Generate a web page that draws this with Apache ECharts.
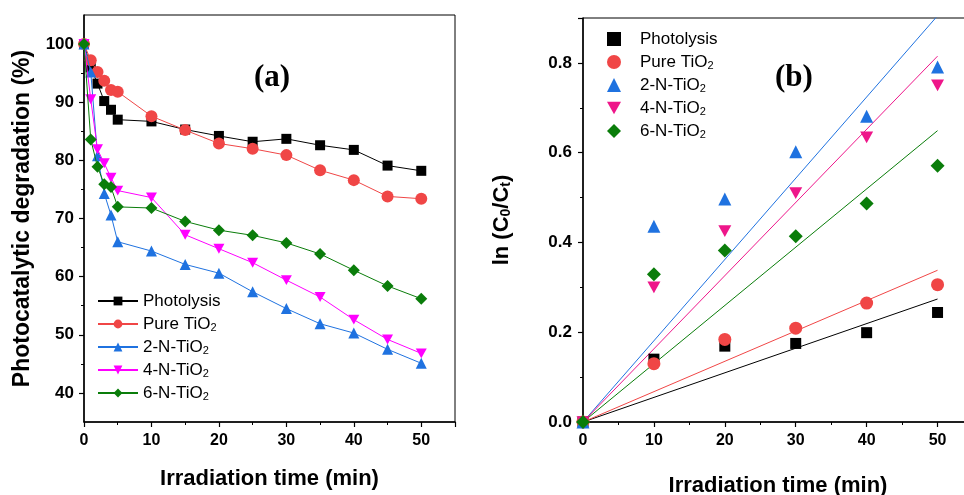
<!DOCTYPE html>
<html lang="en">
<head>
    <meta charset="UTF-8">
    <title>Photocatalytic degradation</title>
    <script src="https://cdn.jsdelivr.net/npm/echarts@6/dist/echarts.min.js"></script>
    <style>
        html, body { margin: 0; padding: 0; background: #fff; }
        #main { width: 964px; height: 495px; }
    </style>
</head>
<body>
<div id="main"></div>
<script>
    // panel (a) data
    var timeA = [0, 1, 2, 3, 4, 5, 10, 15, 20, 25, 30, 35, 40, 45, 50];
    var photolysisA = [100, 96.0, 93.2, 90.2, 88.7, 87.0, 86.7, 85.3, 84.2, 83.2, 83.7, 82.6, 81.8, 79.1, 78.2];
    var pureA = [100, 97.2, 95.2, 93.7, 92.1, 91.8, 87.6, 85.2, 82.9, 82.0, 80.9, 78.3, 76.6, 73.8, 73.4];
    var n2A = [100, 95.2, 80.8, 74.3, 70.6, 66.0, 64.4, 62.1, 60.6, 57.4, 54.5, 51.9, 50.3, 47.5, 45.1];
    var n4A = [100, 90.5, 81.9, 79.5, 77.0, 74.8, 73.6, 67.2, 64.8, 62.4, 59.4, 56.5, 52.6, 49.2, 46.8];
    var n6A = [100, 83.6, 78.9, 75.9, 75.4, 72.0, 71.8, 69.5, 68.0, 67.1, 65.8, 63.9, 61.1, 58.4, 56.2];

    // panel (b) data
    var timeB = [0, 10, 20, 30, 40, 50];
    var photolysisB = [0, 0.140, 0.169, 0.175, 0.199, 0.244];
    var pureB = [0, 0.130, 0.184, 0.209, 0.265, 0.306];
    var n2B = [0, 0.436, 0.497, 0.602, 0.681, 0.791];
    var n4B = [0, 0.300, 0.425, 0.510, 0.634, 0.750];
    var n6B = [0, 0.329, 0.382, 0.414, 0.487, 0.571];
    // fitted lines through origin: value at t = 50
    var fitX = [0, 50];
    var fitEnd = [0.274, 0.338, 0.905, 0.815, 0.649];

    var names = ['Photolysis', 'Pure TiO{s|2}', '2-N-TiO{s|2}', '4-N-TiO{s|2}', '6-N-TiO{s|2}'];
    var yTicksA = [40, 50, 60, 70, 80, 90, 100];
    var yMinorA = [45, 55, 65, 75, 85, 95];

    var colorsA = ['#000000', '#f04646', '#1f72e0', '#ff00ff', '#0a7d0a'];
    var colorsB = ['#000000', '#f04646', '#1f72e0', '#ee168a', '#0a7d0a'];
    var downTri = 'path://M0,0 L10,0 L5,9 Z';
    var symbols = ['rect', 'circle', 'triangle', downTri, 'diamond'];
    var symSizeA = [10, 12, 11, 11, 12];
    var symSizeB = [11, 13, 13, 13, 14];

    function zip(xs, ys) {
        return xs.map(function (x, i) { return [x, ys[i]]; });
    }

    var seriesA = [photolysisA, pureA, n2A, n4A, n6A];
    var seriesB = [photolysisB, pureB, n2B, n4B, n6B];

    var tickFont = { color: '#000', fontFamily: 'Liberation Sans', fontWeight: 'bold', fontSize: 16 };
    var subRich = {
        s: { fontSize: 11, fontFamily: 'Liberation Sans', color: '#000', verticalAlign: 'bottom', padding: [9, 0, 0, 0], lineHeight: 18 }
    };

    var myChart = echarts.init(document.getElementById('main'), null, { renderer: 'canvas' });

    var series = [];
    seriesA.forEach(function (d, i) {
        series.push({
            name: 'a' + i,
            type: 'line',
            xAxisIndex: 0,
            yAxisIndex: 0,
            data: zip(timeA, d),
            symbol: symbols[i],
            symbolSize: symSizeA[i],
            symbolKeepAspect: true,
            showAllSymbol: true,
            color: colorsA[i],
            lineStyle: { width: 1, color: colorsA[i] },
            itemStyle: { color: colorsA[i] },
            z: 2 + i
        });
    });
    fitEnd.forEach(function (v, i) {
        series.push({
            name: 'fit' + i,
            type: 'line',
            xAxisIndex: 1,
            yAxisIndex: 2,
            data: [[fitX[0], 0], [fitX[1], v]],
            symbol: 'none',
            clip: true,
            lineStyle: { width: 1, color: colorsB[i] },
            z: 1
        });
    });
    seriesB.forEach(function (d, i) {
        series.push({
            name: 'b' + i,
            type: 'scatter',
            xAxisIndex: 1,
            yAxisIndex: 2,
            data: zip(timeB, d),
            symbol: symbols[i],
            symbolSize: symSizeB[i],
            symbolKeepAspect: true,
            itemStyle: { color: colorsB[i], opacity: 1 },
            z: 3
        });
    });

    var option = {
        animation: false,
        backgroundColor: '#fff',
        title: [
            { text: '(a)', left: 249, top: 57, textStyle: { fontFamily: 'Liberation Serif', fontWeight: 'bold', fontSize: 31, color: '#000' } },
            { text: '(b)', left: 770, top: 57, textStyle: { fontFamily: 'Liberation Serif', fontWeight: 'bold', fontSize: 31, color: '#000' } }
        ],
        grid: [
            { left: 84, top: 15, width: 371, height: 407, outerBoundsMode: 'none', show: true, borderColor: '#000', borderWidth: 1 },
            { left: 583, top: 18, width: 390, height: 404, outerBoundsMode: 'none', show: true, borderColor: '#000', borderWidth: 1 }
        ],
        legend: [
            {
                data: ['a0', 'a1', 'a2', 'a3', 'a4'],
                orient: 'vertical',
                left: 97,
                top: 292,
                padding: 0,
                itemWidth: 40,
                itemHeight: 11,
                itemGap: 3,
                formatter: function (n) { return names[+n.slice(1)]; },
                textStyle: { color: '#000', fontFamily: 'Liberation Sans', fontSize: 17, lineHeight: 18, rich: subRich }
            },
            {
                data: ['b0', 'b1', 'b2', 'b3', 'b4'],
                orient: 'vertical',
                left: 607,
                top: 30,
                padding: 0,
                itemWidth: 14,
                itemHeight: 14,
                itemGap: 3,
                formatter: function (n) { return names[+n.slice(1)]; },
                textStyle: { color: '#000', fontFamily: 'Liberation Sans', fontSize: 17, lineHeight: 18, padding: [0, 0, 0, 14], rich: subRich }
            }
        ],
        xAxis: [
            {
                gridIndex: 0, type: 'value', min: 0, max: 55, interval: 10,
                name: 'Irradiation time (min)', nameLocation: 'middle', nameGap: 46,
                nameTextStyle: { color: '#000', fontFamily: 'Liberation Sans', fontWeight: 'bold', fontSize: 22 },
                axisLine: { lineStyle: { color: '#000', width: 1.5 } },
                axisTick: { length: 5, lineStyle: { color: '#000', width: 1.2 } },
                minorTick: { show: true, splitNumber: 2, length: 3, lineStyle: { color: '#000', width: 1 } },
                axisLabel: Object.assign({ margin: 11, showMaxLabel: false }, tickFont),
                splitLine: { show: false }
            },
            {
                gridIndex: 1, type: 'value', min: 0, max: 55, interval: 10,
                name: 'Irradiation time (min)', nameLocation: 'middle', nameGap: 53,
                nameTextStyle: { color: '#000', fontFamily: 'Liberation Sans', fontWeight: 'bold', fontSize: 22 },
                axisLine: { lineStyle: { color: '#000', width: 1.5 } },
                axisTick: { length: 5, lineStyle: { color: '#000', width: 1.2 } },
                minorTick: { show: true, splitNumber: 2, length: 3, lineStyle: { color: '#000', width: 1 } },
                axisLabel: Object.assign({ margin: 11, showMaxLabel: false }, tickFont),
                splitLine: { show: false }
            }
        ],
        yAxis: [
            {
                gridIndex: 0, type: 'value', min: 35, max: 105, position: 'left',
                name: 'Photocatalytic degradation (%)', nameLocation: 'middle', nameGap: 50,
                nameTextStyle: { color: '#000', fontFamily: 'Liberation Sans', fontWeight: 'bold', fontSize: 23 },
                axisLine: { show: true, lineStyle: { color: '#000', width: 1.5 } },
                axisTick: { show: true, length: 5, customValues: yTicksA, lineStyle: { color: '#000', width: 1.2 } },
                axisLabel: Object.assign({ margin: 10, customValues: yTicksA }, tickFont, { fontSize: 17 }),
                splitLine: { show: false }
            },
            {
                gridIndex: 0, type: 'value', min: 35, max: 105, position: 'left', offset: 0,
                axisLine: { show: false },
                axisTick: { show: true, length: 3, customValues: yMinorA, lineStyle: { color: '#000', width: 1 } },
                axisLabel: { show: false },
                splitLine: { show: false }
            },
            {
                gridIndex: 1, type: 'value', min: 0, max: 0.9, interval: 0.2,
                name: '{a|ln (C}{s|0}{a|/C}{s|t}{a|)}', nameLocation: 'middle', nameGap: 70,
                nameTextStyle: {
                    rich: {
                        a: { fontFamily: 'Liberation Sans', fontWeight: 'bold', fontSize: 22, color: '#000', lineHeight: 26, verticalAlign: 'bottom' },
                        s: { fontFamily: 'Liberation Sans', fontWeight: 'bold', fontSize: 14, color: '#000', lineHeight: 26, verticalAlign: 'bottom', padding: [9, 0, 0, 0] }
                    }
                },
                axisLine: { show: true, lineStyle: { color: '#000', width: 1.5 } },
                axisTick: { length: 5, lineStyle: { color: '#000', width: 1.2 } },
                minorTick: { show: true, splitNumber: 2, length: 3, lineStyle: { color: '#000', width: 1 } },
                axisLabel: Object.assign({ margin: 11, showMaxLabel: false, formatter: function (v) { return v.toFixed(1); } }, tickFont, { fontSize: 17 }),
                splitLine: { show: false }
            }
        ],
        series: series
    };

    myChart.setOption(option);
</script>
</body>
</html>
